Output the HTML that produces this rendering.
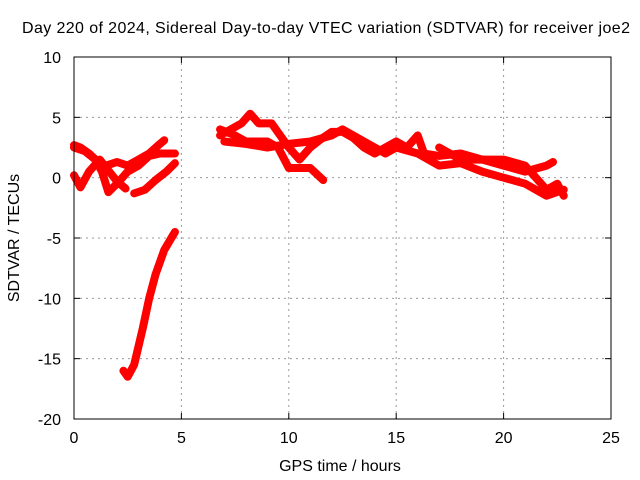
<!DOCTYPE html>
<html><head><meta charset="utf-8"><style>
body{margin:0;background:#fff}
svg{display:block;font-family:"Liberation Sans",sans-serif}
</style></head><body>
<svg id="c" width="640" height="480">
<text x="326" y="33" font-size="16" text-anchor="middle" textLength="608">Day 220 of 2024, Sidereal Day-to-day VTEC variation (SDTVAR) for receiver joe2</text>
<text x="340" y="471" font-size="16" text-anchor="middle">GPS time / hours</text>
<text transform="translate(19,238) rotate(-90)" font-size="16" text-anchor="middle">SDTVAR / TECUs</text>
<g id="grid"></g><g id="marks"></g>
<rect x="74" y="57" width="537" height="362" fill="none" stroke="#000"/>
</svg>
<script>
const xTicks=[0,5,10,15,20,25];
const yTicks=[-20,-15,-10,-5,0,5,10];
const trackA=[[0,2.7],[0.3,2.5],[0.7,2],[1,1.5],[1.3,0.5],[1.6,-1.2],[2,-0.5],[2.5,0.5],[3,1],[3.5,1.8],[4,2],[4.7,2]];
const trackB=[[0,2.5],[0.5,2.2],[1,1.5],[1.5,1],[2,1.3],[2.5,1],[3,1.5],[3.5,2],[4,2.8],[4.2,3.1]];
const trackC=[[0,0.2],[0.3,-0.8],[0.7,0.5],[1.2,1.5],[1.6,0.6],[2,-0.3],[2.4,-0.9]];
const trackD=[[2.8,-1.3],[3.3,-1],[3.8,-0.2],[4.3,0.5],[4.7,1.2]];
const trackE=[[2.3,-16],[2.5,-16.5],[2.8,-15.5],[3.2,-12.5],[3.5,-10],[3.8,-8],[4.2,-6],[4.7,-4.5]];
const trackF=[[6.8,3.5],[7.3,4],[7.8,4.5],[8.2,5.3],[8.6,4.5],[9.2,4.5],[9.6,3.5],[10,2.5],[10.5,1.5],[11,2.5],[11.5,3.2],[12,3.8],[12.5,3.8],[13,3.3],[13.5,2.5],[14,2],[14.5,2.5],[15,3],[15.5,2.5],[16,3.5],[16.3,2],[17,1.8],[18,2],[19,1.5],[20,1],[21,0.5],[22,1],[22.3,1.3]];
const trackG=[[6.8,4],[7.5,3.5],[8,3],[9,3],[9.5,2.5],[10,0.8],[11,0.8],[11.6,-0.2]];
const trackH=[[7,3],[8,2.8],[9,2.5],[10,2.8],[11,3],[12,3.5],[12.5,4],[13.5,3],[14.5,2],[15,2.5],[16,2],[17,1],[18,1.2],[19,0.5],[20,0],[21,-0.5],[22,-1.5],[22.8,-1]];
const trackI=[[17,2.5],[18,1.5],[19,1.5],[20,1.5],[21,1],[21.5,0],[22,-1],[22.5,-0.5],[22.8,-1.5]];
const tracks=[trackA,trackB,trackC,trackD,trackE,trackF,trackG,trackH,trackI];
const X=v=>74+v/25*537, Y=v=>419-(v+20)/30*362;
const ns="http://www.w3.org/2000/svg";
const grid=document.getElementById('grid'), marks=document.getElementById('marks');
function mk(tag,at,par){const e=document.createElementNS(ns,tag);for(const k in at)e.setAttribute(k,at[k]);par.appendChild(e);return e;}
xTicks.forEach(t=>{
  if(t>0&&t<25){const l=mk('line',{x1:X(t),x2:X(t),y1:57,y2:419,stroke:'#999','stroke-dasharray':'2,4'},grid);
  
  }
  mk('line',{x1:X(t),x2:X(t),y1:419,y2:413,stroke:'#000'},grid);
  mk('line',{x1:X(t),x2:X(t),y1:57,y2:63,stroke:'#000'},grid);
  const tx=mk('text',{x:X(t),y:443,'font-size':16,'text-anchor':'middle'},grid);tx.textContent=t;
  
  
});
yTicks.forEach(t=>{
  if(t>-20&&t<10){const l=mk('line',{x1:74,x2:611,y1:Y(t),y2:Y(t),stroke:'#999','stroke-dasharray':'2,4'},grid);
  
  }
  mk('line',{x1:74,x2:80,y1:Y(t),y2:Y(t),stroke:'#000'},grid);
  mk('line',{x1:611,x2:605,y1:Y(t),y2:Y(t),stroke:'#000'},grid);
  const tx=mk('text',{x:61,y:Y(t)+6,'font-size':16,'text-anchor':'end'},grid);tx.textContent=t;
  
  
});
tracks.forEach(tr=>{
  const p=mk('polyline',{points:tr.map(d=>X(d[0])+','+Y(d[1])).join(' '),fill:'none',stroke:'#f00','stroke-width':8,'stroke-linejoin':'round','stroke-linecap':'round'},marks);
  
  
});
</script>
</body></html>
